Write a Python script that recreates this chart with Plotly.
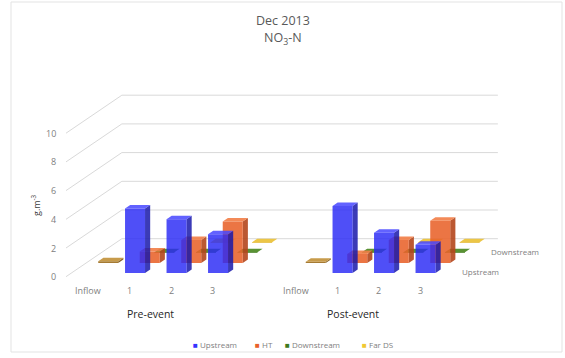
import plotly.graph_objects as go

# ---------------- data ----------------
groups = ["Pre-event", "Post-event"]
categories = ["Inflow", "1", "2", "3"]
series_names = ["Upstream", "HT", "Downstream", "Far DS"]

upstream_pre = [None, 4.5, 3.75, 2.7]
upstream_post = [None, 4.67, 2.8, 1.97]
ht_pre = [0.12, 0.8, 1.6, 2.9]
ht_post = [0.08, 0.62, 1.6, 2.95]
downstream_pre = [None, 0.06, 0.06, 0.06]
downstream_post = [None, 0.06, 0.06, 0.06]
fards_pre = [None, None, 0.06, 0.06]
fards_post = [None, None, 0.06, 0.06]

y_ticks = [0, 2, 4, 6, 8, 10]

series_values = {
    "Upstream": (upstream_pre, upstream_post),
    "HT": (ht_pre, ht_post),
    "Downstream": (downstream_pre, downstream_post),
    "Far DS": (fards_pre, fards_post),
}

# ---------------- style ----------------
W, H = 565, 358
PX_X = 41.5     # px per category slot
PX_Y = 14.35    # px per value unit
X0_PX = 88.1    # px of slot 0 centre at front edge
Y0_PX = 276.7   # px of value 0 at front edge
DX = 14.7 / PX_X   # x shift per depth row
DY = 10.0 / PX_Y   # y shift per depth row
WALL_D = 3.8
ROW0 = 0.37
THICK = 0.35
BAR_W = 20.0 / PX_X
GROUP_GAP = 5

face_colors = {
    "Upstream": ("rgba(40,40,245,0.82)", "rgba(70,70,255,0.85)", "rgba(25,25,170,0.85)"),
    "HT": ("rgba(232,98,42,0.88)", "rgba(242,125,70,0.9)", "rgba(180,70,28,0.9)"),
    "Downstream": ("rgba(62,122,30,0.95)", "rgba(80,140,40,0.95)", "rgba(45,90,20,0.95)"),
    "Far DS": ("rgba(225,180,40,0.95)", "rgba(235,195,60,0.95)", "rgba(180,140,30,0.95)"),
}
legend_colors = {"Upstream": "#3434ff", "HT": "#e8622a", "Downstream": "#3e7a1e", "Far DS": "#f0c832"}
inflow_colors = ("rgba(160,115,40,0.95)", "rgba(196,150,65,0.95)", "rgba(130,92,30,0.95)")

GRID = "#d9d9d9"
TXT = "#808080"
FONT = "Open Sans"


def proj(x, v, d):
    return x + d * DX, v + d * DY


def box_polys(xc, v, row):
    d0 = ROW0 + row
    d1 = d0 + THICK
    xl, xr = xc - BAR_W / 2, xc + BAR_W / 2
    front = [proj(xl, 0, d0), proj(xr, 0, d0), proj(xr, v, d0), proj(xl, v, d0)]
    top = [proj(xl, v, d0), proj(xr, v, d0), proj(xr, v, d1), proj(xl, v, d1)]
    side = [proj(xr, 0, d0), proj(xr, 0, d1), proj(xr, v, d1), proj(xr, v, d0)]
    return front, top, side


def add_polys(fig, polys, color):
    xs, ys = [], []
    for p in polys:
        for (a, b) in p + [p[0]]:
            xs.append(a)
            ys.append(b)
        xs.append(None)
        ys.append(None)
    fig.add_trace(go.Scatter(x=xs, y=ys, mode="lines", fill="toself",
                             fillcolor=color, line=dict(width=0, color=color),
                             hoverinfo="skip", showlegend=False))


fig = go.Figure()

# ---- wall gridlines ----
x_front_left = (66 - X0_PX) / PX_X
x_front_right = (442 - X0_PX) / PX_X
for v in y_ticks:
    p1 = proj(x_front_left, v, 0)
    p2 = proj(x_front_left, v, WALL_D)
    p3 = proj(x_front_right, v, WALL_D)
    fig.add_trace(go.Scatter(x=[p1[0], p2[0], p3[0]], y=[p1[1], p2[1], p3[1]],
                             mode="lines", line=dict(color=GRID, width=1),
                             hoverinfo="skip", showlegend=False))

# ---- bars, back rows first ----
for row in reversed(range(len(series_names))):
    name = series_names[row]
    fr, tp, sd = [], [], []
    ifr, itp, isd = [], [], []
    for g, vals in enumerate(series_values[name]):
        for c, v in enumerate(vals):
            if v is None:
                continue
            xc = g * GROUP_GAP + c
            f, t, s = box_polys(xc, v, row)
            if categories[c] == "Inflow":
                ifr.append(f); itp.append(t); isd.append(s)
            else:
                fr.append(f); tp.append(t); sd.append(s)
    cf, ct, cs = face_colors[name]
    if fr:
        add_polys(fig, sd, cs)
        add_polys(fig, fr, cf)
        add_polys(fig, tp, ct)
    if ifr:
        add_polys(fig, isd, inflow_colors[2])
        add_polys(fig, ifr, inflow_colors[0])
        add_polys(fig, itp, inflow_colors[1])

annotations = []
# ---- y tick labels ----
for v in y_ticks:
    annotations.append(dict(x=x_front_left - 0.2, y=v, xref="x", yref="y", text=str(v),
                            showarrow=False, xanchor="right", yanchor="middle",
                            font=dict(family=FONT, size=9, color=TXT)))
# ---- category labels ----
for g in range(len(groups)):
    for c, cat in enumerate(categories):
        annotations.append(dict(x=g * GROUP_GAP + c, y=-(290 - Y0_PX) / PX_Y, xref="x", yref="y",
                                text=cat, showarrow=False, xanchor="center", yanchor="middle",
                                font=dict(family=FONT, size=9, color=TXT)))
# ---- group labels ----
for gx, gname in zip([125, 325], groups):
    annotations.append(dict(x=gx / W, y=1 - 314 / H, xref="paper", yref="paper", text=gname,
                            showarrow=False, xanchor="left", yanchor="middle",
                            font=dict(family=FONT, size=10.5, color="#262626")))
# ---- depth axis labels ----
for row, lbl in [(0, "Upstream"), (2, "Downstream")]:
    px, py = proj(x_front_right, 0, ROW0 + row + THICK / 2)
    annotations.append(dict(x=px + 10 / PX_X, y=py, xref="x", yref="y", text=lbl,
                            showarrow=False, xanchor="left", yanchor="middle",
                            font=dict(family=FONT, size=8, color=TXT)))
# ---- title ----
annotations.append(dict(x=283 / W, y=1 - 20 / H, xref="paper", yref="paper", text="Dec 2013",
                        showarrow=False, xanchor="center", yanchor="middle",
                        font=dict(family=FONT, size=12.5, color="#595959")))
annotations.append(dict(x=283 / W, y=1 - 38 / H, xref="paper", yref="paper",
                        text="NO<sub>3</sub>-N",
                        showarrow=False, xanchor="center", yanchor="middle",
                        font=dict(family=FONT, size=12.5, color="#595959")))
# ---- y axis title ----
annotations.append(dict(x=36 / W, y=1 - 205 / H, xref="paper", yref="paper",
                        text="g.m<sup>-3</sup>", textangle=-90,
                        showarrow=False, xanchor="center", yanchor="middle",
                        font=dict(family=FONT, size=9, color="#404040")))
# ---- legend (marker + label) ----
for lx, name in zip([191, 253, 283, 360], series_names):
    annotations.append(dict(x=lx / W, y=1 - 344 / H, xref="paper", yref="paper",
                            text="■", showarrow=False, xanchor="left", yanchor="middle",
                            font=dict(family=FONT, size=8, color=legend_colors[name])))
    annotations.append(dict(x=(lx + 7) / W, y=1 - 344 / H, xref="paper", yref="paper",
                            text=name, showarrow=False, xanchor="left", yanchor="middle",
                            font=dict(family=FONT, size=8, color=TXT)))

xa = -X0_PX / PX_X
ya_top = Y0_PX / PX_Y
fig.update_layout(
    width=W, height=H, autosize=False,
    margin=dict(l=0, r=0, t=0, b=0),
    paper_bgcolor="white", plot_bgcolor="white",
    xaxis=dict(range=[xa, xa + W / PX_X], visible=False, fixedrange=True),
    yaxis=dict(range=[ya_top - H / PX_Y, ya_top], visible=False, fixedrange=True),
    showlegend=False,
    annotations=annotations,
    shapes=[dict(type="rect", xref="paper", yref="paper",
                 x0=11 / W, x1=562 / W, y0=1 - 352 / H, y1=1 - 2 / H,
                 line=dict(color="#e3e3e3", width=1), fillcolor="rgba(0,0,0,0)")],
)

fig.write_html("out.html")
